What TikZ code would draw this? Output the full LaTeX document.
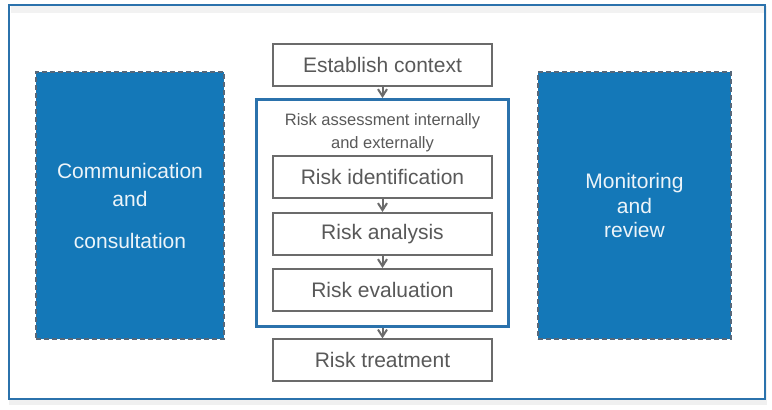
\documentclass[tikz,border=0pt]{standalone}
\usepackage{fontspec}
\setmainfont{Liberation Sans}
\usetikzlibrary{arrows.meta,positioning}

\definecolor{riskblue}{HTML}{1478B8}
\definecolor{frameblue}{HTML}{2B72AC}
\definecolor{boxgray}{HTML}{6B6B6B}
\definecolor{textgray}{HTML}{595959}
\definecolor{dashgray}{HTML}{56687A}

\begin{document}
\begin{tikzpicture}[
    x=1pt, y=1pt,
    stepbox/.style={rectangle, draw=boxgray, line width=2pt, fill=white, text=textgray,
        minimum width=219pt, minimum height=42pt, inner sep=0pt, font=\fontsize{21}{24}\selectfont},
    sidebox/.style={rectangle, draw=dashgray, dashed, dash pattern=on 5pt off 3pt, line width=1.8pt,
        fill=riskblue, text=white!92!riskblue, minimum height=267pt, inner sep=0pt, align=center},
    flow/.style={-{Straight Barb[length=7pt, width=9pt, line width=2pt]}, draw=boxgray, line width=2pt}
]
\useasboundingbox (0,0) rectangle (772,410);

% outer frame with its shadow
\fill[gray!12] (9,5) rectangle (767,404);
\draw[frameblue, line width=2.4pt, fill=white] (9,11) rectangle (765,405);
\fill[gray!10] (10.5,397) rectangle (763.5,403.5);

% side panels
\node[sidebox, minimum width=188pt, font=\fontsize{21}{28}\selectfont] (comm) at (130,204.5)
    {Communication\\and\\[14pt]consultation};
\node[sidebox, minimum width=193pt, font=\fontsize{21}{24.5}\selectfont] (monitor) at (634.5,204.5)
    {Monitoring\\and\\review};

% main flow
\node[stepbox] (context) at (382.5,345) {Establish context};
\node[rectangle, draw=frameblue, line width=3.4pt, minimum width=252pt, minimum height=227pt,
    below=11pt of context] (assess) {};
\node[below=15pt of assess.north, align=center, text=textgray, inner sep=0pt,
    font=\fontsize{16.5}{23}\selectfont] (assesstitle) {Risk assessment internally\\and externally};
\node[stepbox] (ident) at (382.5,233) {Risk identification};
\node[stepbox, below=13pt of ident] (analysis) {Risk analysis};
\node[stepbox, below=12pt of analysis] (evaluation) {Risk evaluation};
\node[stepbox, below=10pt of assess] (treatment) {Risk treatment};

\draw[flow] (context) -- (assess);
\draw[flow] (ident) -- (analysis);
\draw[flow] (analysis) -- (evaluation);
\draw[flow] (assess) -- (treatment);

\end{tikzpicture}
\end{document}
